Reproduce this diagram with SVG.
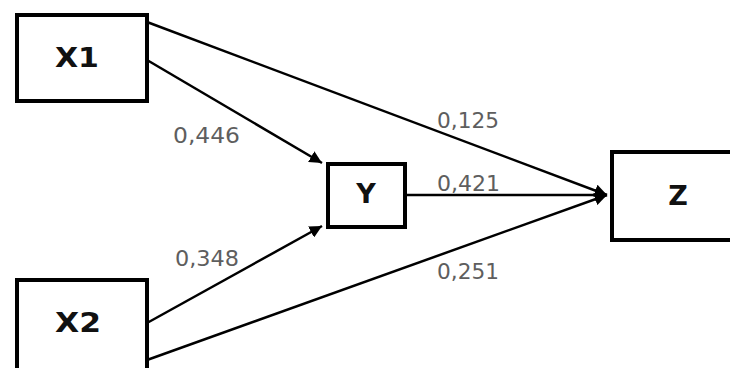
<svg xmlns="http://www.w3.org/2000/svg" width="730" height="368" viewBox="0 0 730 368">
  <defs>
    <marker id="arrow" viewBox="0 0 10 10" refX="10" refY="5" markerWidth="5" markerHeight="5" orient="auto" markerUnits="strokeWidth">
      <path d="M0,0 L10,5 L0,10 z" fill="#000"/>
    </marker>
    <style>
      .box { fill: #fff; stroke: #000; stroke-width: 4; }
      .name { font-family: "DejaVu Sans", sans-serif; font-weight: bold; font-size: 27px; fill: #111; text-anchor: middle; }
      .edge { stroke: #000; stroke-width: 2.5; fill: none; }
      .coef { font-family: "DejaVu Sans", sans-serif; font-size: 21px; fill: #5e5e5e; }
    </style>
  </defs>
  <rect width="730" height="368" fill="#fff"/>

  <g id="connectors">
    <line class="edge" x1="147" y1="22" x2="607" y2="195" marker-end="url(#arrow)"/>
    <line class="edge" x1="147" y1="60" x2="322" y2="163" marker-end="url(#arrow)"/>
    <line class="edge" x1="147" y1="323" x2="322" y2="226" marker-end="url(#arrow)"/>
    <line class="edge" x1="147" y1="360" x2="607" y2="195" marker-end="url(#arrow)"/>
    <line class="edge" x1="406" y1="195" x2="607" y2="195" marker-end="url(#arrow)"/>
    <text class="coef" x="173" y="143" textLength="67" lengthAdjust="spacingAndGlyphs">0,446</text>
    <text class="coef" x="175" y="266" textLength="64" lengthAdjust="spacingAndGlyphs">0,348</text>
    <text class="coef" x="437" y="128" textLength="62" lengthAdjust="spacingAndGlyphs">0,125</text>
    <text class="coef" x="437" y="191" textLength="63" lengthAdjust="spacingAndGlyphs">0,421</text>
    <text class="coef" x="437" y="279" textLength="62" lengthAdjust="spacingAndGlyphs">0,251</text>
  </g>

  <g id="node-x1">
    <rect class="box" x="17" y="15" width="130" height="86"/>
    <text class="name" x="77" y="67" textLength="44" lengthAdjust="spacingAndGlyphs">X1</text>
  </g>
  <g id="node-x2">
    <rect class="box" x="17" y="280" width="130" height="100"/>
    <text class="name" x="78" y="332" textLength="46" lengthAdjust="spacingAndGlyphs">X2</text>
  </g>
  <g id="node-y">
    <rect class="box" x="328" y="164" width="77" height="63"/>
    <text class="name" x="366" y="203">Y</text>
  </g>
  <g id="node-z">
    <rect class="box" x="612" y="152" width="130" height="88"/>
    <text class="name" x="678" y="205">Z</text>
  </g>
</svg>
